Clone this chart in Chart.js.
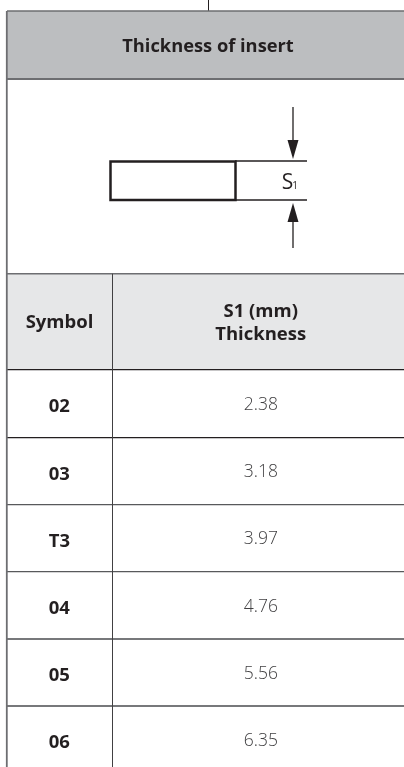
<!DOCTYPE html>
<html>
<head>
<meta charset="utf-8">
<style>
    html, body { margin: 0; padding: 0; background: #fff; overflow: hidden; width: 404px; height: 767px; }
    canvas { display: block; }
</style>
<script src="https://cdn.jsdelivr.net/npm/chart.js@4"></script>
</head>
<body>
<canvas id="table" width="404" height="773"></canvas>
<script>
    const symbols = ["02", "03", "T3", "04", "05", "06"];
    const thickness = ["2.38", "3.18", "3.97", "4.76", "5.56", "6.35"];
    const titleText = "Thickness of insert";
    const symbolHeader = "Symbol";
    const valueHeader = ["S1 (mm)", "Thickness"];

    const ink = "#231f20";
    const rule = "#6d6e71";
    const fontFamily = "'Open Sans', sans-serif";

    function line(ctx, x1, y1, x2, y2, width, color) {
        ctx.beginPath();
        ctx.moveTo(x1, y1);
        ctx.lineTo(x2, y2);
        ctx.lineWidth = width;
        ctx.strokeStyle = color;
        ctx.stroke();
    }

    function arrowHead(ctx, x, baseY, tipY) {
        ctx.beginPath();
        ctx.moveTo(x - 5.5, baseY);
        ctx.lineTo(x + 5.5, baseY);
        ctx.lineTo(x, tipY);
        ctx.closePath();
        ctx.fillStyle = ink;
        ctx.fill();
    }

    function text(ctx, str, x, y, font, color) {
        ctx.font = font;
        ctx.fillStyle = color;
        ctx.textAlign = "center";
        ctx.textBaseline = "middle";
        ctx.fillText(str, x, y);
    }

    // everything above the rows: title band, sketch, column headers
    const tableFrame = {
        id: "tableFrame",
        beforeDraw(chart) {
            const ctx = chart.ctx;
            ctx.save();
            ctx.fillStyle = "#bcbec0";
            ctx.fillRect(7, 11, 397, 68);
            ctx.fillStyle = "#e6e7e8";
            ctx.fillRect(7, 274, 397, 96);
            ctx.restore();
        },
        afterDraw(chart) {
            const ctx = chart.ctx;
            ctx.save();
            line(ctx, 208.5, 0, 208.5, 11, 1, ink);
            line(ctx, 7, 11, 404, 11, 1.5, rule);
            line(ctx, 7, 79, 404, 79, 2, rule);
            line(ctx, 7, 273.7, 404, 273.7, 1.5, rule);
            line(ctx, 6.8, 11, 6.8, 767, 1.8, rule);
            line(ctx, chart.chartArea.left + 0.5, 273.7, chart.chartArea.left + 0.5, 370, 1, "#414042");

            ctx.lineWidth = 2.5;
            ctx.strokeStyle = ink;
            ctx.strokeRect(110.5, 161.5, 125, 38.5);
            line(ctx, 235, 161, 307, 161, 1.3, ink);
            line(ctx, 235, 200, 307, 200, 1.3, ink);
            line(ctx, 293, 107, 293, 142, 1.3, ink);
            arrowHead(ctx, 293, 140, 159);
            line(ctx, 293, 220, 293, 248, 1.3, ink);
            arrowHead(ctx, 293, 222, 203);

            text(ctx, "S", 287.5, 183.5, "400 21px " + fontFamily, ink);
            text(ctx, "1", 295, 186, "400 10px " + fontFamily, ink);

            text(ctx, titleText, 208, 47, "700 18.3px " + fontFamily, ink);
            text(ctx, symbolHeader, 59.5, 322.5, "700 18.5px " + fontFamily, ink);
            text(ctx, valueHeader[0], 260.7, 312, "700 18.5px " + fontFamily, ink);
            text(ctx, valueHeader[1], 260.7, 335, "700 18.5px " + fontFamily, ink);

            // thickness cells sit on the bars of the dataset
            chart.getDatasetMeta(0).data.forEach((bar, i) => {
                const c = bar.getCenterPoint();
                text(ctx, thickness[i], c.x, c.y + 1.5, "300 17.5px " + fontFamily, "#414042");
            });
            ctx.restore();
        }
    };

    new Chart(document.getElementById("table"), {
        type: "bar",
        data: {
            labels: symbols,
            datasets: [{
                label: valueHeader.join(" "),
                // one cell per row, spanning the whole value column
                data: symbols.map(() => [0, 1]),
                backgroundColor: "#ffffff",
                categoryPercentage: 0.94,
                barPercentage: 1
            }]
        },
        options: {
            indexAxis: "y",
            responsive: false,
            animation: false,
            events: [],
            layout: { padding: { top: 370, left: 0, right: 0, bottom: 0 } },
            plugins: { legend: { display: false }, tooltip: { enabled: false }, title: { display: false } },
            scales: {
                x: {
                    display: false,
                    min: -0.02,
                    max: 1.0
                },
                y: {
                    afterFit(scale) {
                        scale.width = 112;
                    },
                    border: { display: true, color: "#414042", width: 1 },
                    grid: {
                        offset: true,
                        color: (c) => (c.index < 2 ? ink : c.index < 4 ? "#58595b" : "#77787b"),
                        lineWidth: (c) => (c.index < 4 ? 1.3 : 2),
                        tickLength: 105
                    },
                    ticks: {
                        crossAlign: "center",
                        padding: -63,
                        labelOffset: 3.5,
                        color: ink,
                        font: { family: fontFamily, size: 18.5, weight: "700" }
                    }
                }
            }
        },
        plugins: [tableFrame]
    });
</script>
</body>
</html>
